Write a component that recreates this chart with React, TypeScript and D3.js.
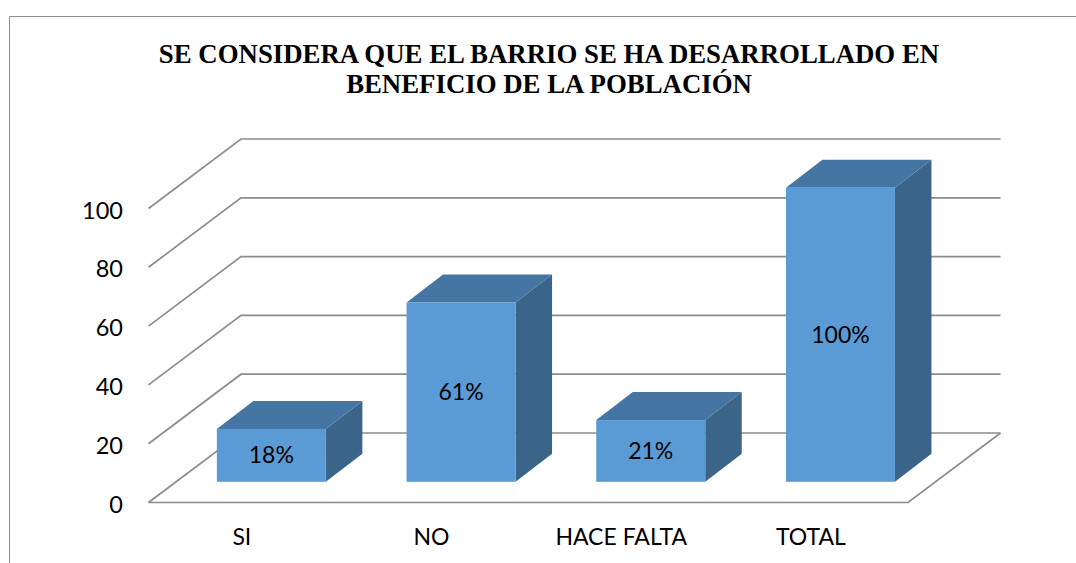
import React from "react";
import * as d3 from "d3";

const categories = ["SI", "NO", "HACE FALTA", "TOTAL"];
const values = [18, 61, 21, 100];
const barLabels = ["18%", "61%", "21%", "100%"];
const ticks = [0, 20, 40, 60, 80, 100];
const titleLines = [
  "SE CONSIDERA QUE EL BARRIO SE HA DESARROLLADO EN",
  "BENEFICIO DE LA POBLACIÓN",
];

const x = d3.scaleBand<string>().domain(categories).range([148.5, 907.3]).paddingInner(0).paddingOuter(0);
const y = d3.scaleLinear().domain([0, 100]).range([502.5, 208.5]);
const floorLeft = 148.5;
const floorRight = 908;
const depthX = 92.5;
const depthY = 69.5;
const barW = 109;
const barDX = 36.5;
const barDY = 28;
const barOffX = 28;
const barOffY = 20.7;

const grid = "#8c8c8c";
const labelFont = "Lato, Carlito, sans-serif";

export default function App() {
  return (
    <svg width={1076} height={563} style={{ position: "fixed", left: 0, top: 0, background: "#fff" }}>
      <path d="M9.5,563V16.5H1076" fill="none" stroke="#8f8f8f" strokeWidth={1} />
      <text textAnchor="middle" fontFamily="'Liberation Serif', serif" fontWeight="bold" fontSize={26.8} fill="#000">
        {titleLines.map((t, i) => (
          <tspan key={i} x={549} y={63 + i * 29.5}>{t}</tspan>
        ))}
      </text>
      {ticks.map((t) => (
        <path
          key={t}
          d={`M${floorLeft},${y(t)}L${floorLeft + depthX},${y(t) - depthY}H${floorRight + depthX}`}
          fill="none"
          stroke={grid}
          strokeWidth={1.7}
        />
      ))}
      <path
        d={`M${floorLeft},${y(0)}H${floorRight}L${floorRight + depthX},${y(0) - depthY}`}
        fill="none"
        stroke={grid}
        strokeWidth={1.7}
      />
      {ticks.map((t) => (
        <text key={t} x={123} y={y(t) + 10} textAnchor="end" fontFamily={labelFont} fontSize={23.5} fill="#000">{t}</text>
      ))}
      {categories.map((c, i) => {
        const bx = x(c)! + x.bandwidth() / 2 - barW / 2 + barOffX;
        const by0 = y(0) - barOffY;
        const by1 = y(values[i]) - barOffY;
        return (
          <g key={c}>
            <path d={`M${bx + barW},${by1}l${barDX},${-barDY}V${by0 - barDY}L${bx + barW},${by0}Z`} fill="#3b6588" />
            <path d={`M${bx},${by1}l${barDX},${-barDY}h${barW}l${-barDX},${barDY}Z`} fill="#4575a2" />
            <rect x={bx} y={by1} width={barW} height={by0 - by1} fill="#5b9bd5" />
            <text x={bx + barW / 2} y={(by0 + by1) / 2 + 8} textAnchor="middle" fontFamily={labelFont} fontSize={23} fill="#000">{barLabels[i]}</text>
            <text x={x(c)! + x.bandwidth() / 2 - 1.5} y={544.5} textAnchor="middle" fontFamily={labelFont} fontSize={23} fill="#000">{c}</text>
          </g>
        );
      })}
    </svg>
  );
}
